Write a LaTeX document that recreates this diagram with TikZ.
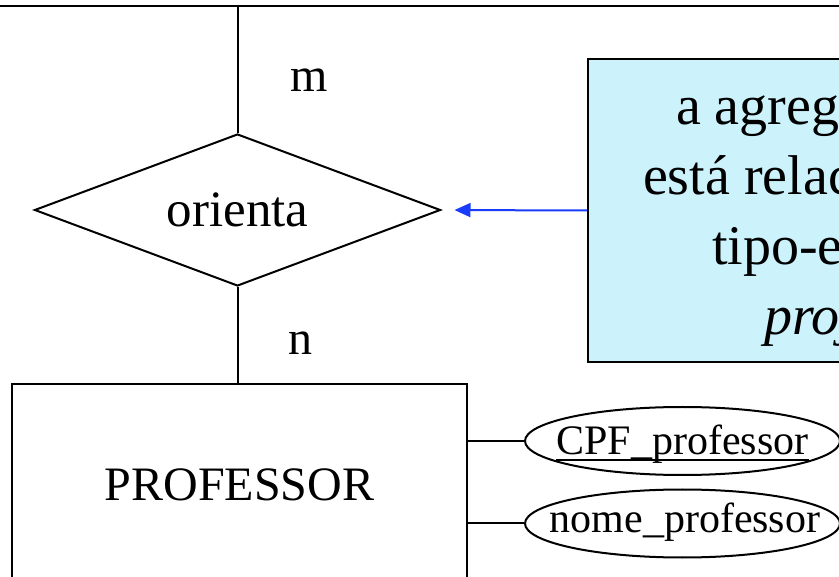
\documentclass[tikz,border=0pt]{standalone}
\usepackage{fontspec}
\setmainfont{Liberation Serif}
\usetikzlibrary{shapes.geometric,arrows.meta}
\definecolor{notefill}{RGB}{204,243,252}
\definecolor{noteblue}{RGB}{25,60,250}
% underline drawn through the descenders, as in the key attribute
\newcommand\ulword[1]{\setbox0=\hbox{#1}\rlap{\rule[-6pt]{\wd0}{2pt}}#1}
\begin{document}
\begin{tikzpicture}[x=1pt,y=-1pt,line width=2pt,
  lbl/.style={inner sep=0pt,font=\fontsize{48}{58}\selectfont},
  relshape/.style={draw,diamond,aspect=2.67,inner sep=0pt,minimum width=406pt,minimum height=152pt,font=\fontsize{51}{60}\selectfont},
  entshape/.style={draw,rectangle,inner sep=0pt,minimum width=455pt,minimum height=202pt,font=\fontsize{48}{58}\selectfont},
  attrshape/.style={draw,ellipse,inner sep=0pt,minimum width=315pt,minimum height=68pt,font=\fontsize{42}{50}\selectfont},
  noteshape/.style={draw,rectangle,fill=notefill,inner sep=0pt,minimum width=430pt,minimum height=303pt},
  noteline/.style={inner sep=0pt,anchor=base west,font=\fontsize{56}{70}\selectfont},
  notearrow/.style={draw=noteblue,line width=2pt,-{Triangle[length=16pt,width=14pt]},shorten >=13pt}]
\useasboundingbox (0,0) rectangle (839,577);
\fill[white] (0,0) rectangle (839,577);
\clip (0,0) rectangle (839,577);

% upper frame edge
\coordinate (topL) at (0,6);
\coordinate (topR) at (839,6);
\draw[line width=2.5pt] (topL) -- (topR);

% relationship and entity
\node[relshape] (rel) at (237.5,210) {orienta};
\node[entshape] (ent) at (239.5,485) {PROFESSOR};
\draw (rel.north) -- (rel.north |- topL);
\draw (rel.south) -- (ent.north -| rel.south);
\node[lbl,anchor=base west] (card1) at (289,92) {m};
\node[lbl,anchor=base west] (card2) at (287,355) {n};

% attributes
\node[attrshape,text height=30pt,text depth=2pt] (a1) at (682.5,441) {\makebox[0pt]{\ulword{CPF\_professor}}};
\node[attrshape,text height=20pt,text depth=2pt] (a2) at (682.5,523.5) {\makebox[0pt]{\hspace{5pt}nome\_professor}};
\draw (a1.west -| ent.east) -- (a1.west);
\draw (a2.west -| ent.east) -- (a2.west);

% note box with its arrow
\node[noteshape,anchor=west] (note) at (587,210.5) {};
\node[noteline] (n1) at (675,125) {a agregação};
\node[noteline] (n2) at (642,195) {está relacionada};
\node[noteline] (n3) at (711,265) {tipo-entidade};
\node[noteline] (n4) at (763,335) {\itshape projeto};
\draw[notearrow] (note.west) -- (rel.east);
\end{tikzpicture}
\end{document}
